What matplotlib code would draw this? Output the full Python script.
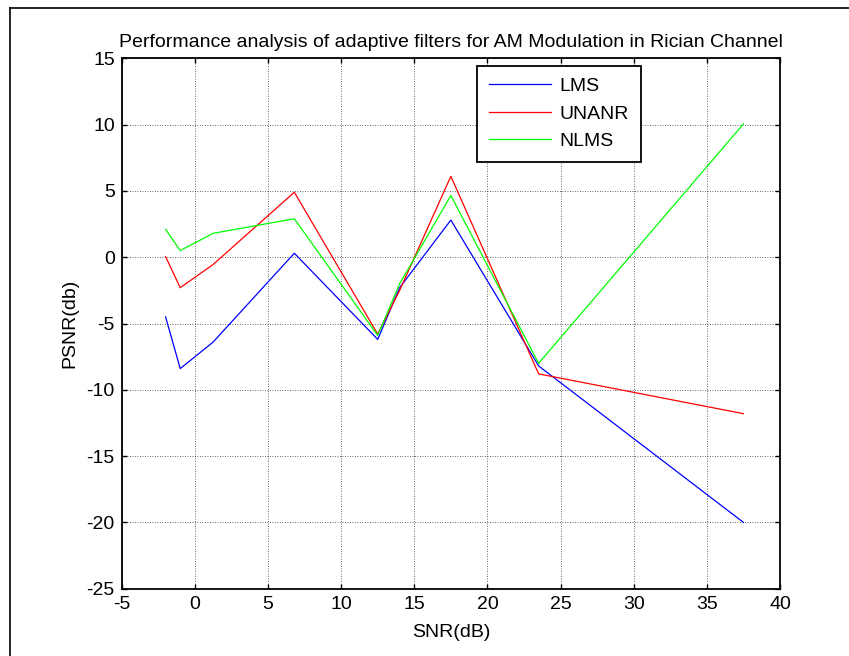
import matplotlib
matplotlib.use('Agg')
import matplotlib.pyplot as plt
from matplotlib.lines import Line2D

plt.rcParams['font.family'] = ['Liberation Sans', 'DejaVu Sans']
plt.rcParams['axes.unicode_minus'] = False

# SNR points (dB) and PSNR of each filter
snr = [-2, -1, 1.25, 6.8, 12.5, 14, 17.5, 23.5, 37.5]
lms = [-4.5, -8.4, -6.4, 0.3, -6.2, -2.3, 2.8, -8.2, -20]
unanr = [0.05, -2.3, -0.55, 4.9, -5.8, -2.5, 6.1, -8.8, -11.8]
nlms = [2.1, 0.5, 1.8, 2.9, -5.9, -2.0, 4.65, -8.0, 10.05]

xticks = list(range(-5, 41, 5))
yticks = list(range(-25, 16, 5))

W, H = 849, 656
fig = plt.figure(figsize=(W / 100, H / 100), dpi=100)
ax = fig.add_axes([121.7 / W, 1 - 588.7 / H, (780 - 121.7) / W, (588.7 - 58.3) / H])

ax.plot(snr, lms, color='#0000ff', lw=0.9, label='LMS')
ax.plot(snr, unanr, color='#ff0000', lw=0.9, label='UNANR')
ax.plot(snr, nlms, color='#00ff00', lw=0.9, label='NLMS')

ax.set_xlim(-5, 40)
ax.set_ylim(-25, 15)
ax.set_xticks(xticks)
ax.set_yticks(yticks)
ax.grid(True, color='black', linestyle=(0, (1, 2)), linewidth=0.6, alpha=0.8)
ax.tick_params(direction='in', top=True, right=True, length=3.5, width=1,
               labelsize=14, pad=5)
for s in ax.spines.values():
    s.set_linewidth(1.3)

ax.set_title('Performance analysis of adaptive filters for AM Modulation in Rician Channel',
             fontsize=14, pad=8)
ax.set_xlabel('SNR(dB)', fontsize=14, labelpad=8)
ax.set_ylabel('PSNR(db)', fontsize=14, labelpad=6)

leg = ax.legend(loc='upper left', bbox_to_anchor=(477 / W, 1 - 66 / H),
                bbox_transform=fig.transFigure, fontsize=14, fancybox=False,
                edgecolor='black', framealpha=1, handlelength=3.2,
                handletextpad=0.45, labelspacing=0.5, borderpad=0.6,
                borderaxespad=0)
leg.get_frame().set_linewidth(1.3)

# outer frame (left and top edges visible)
fig.add_artist(Line2D([10 / W, 10 / W], [0, 1 - 8 / H], color='black', lw=1.2,
                      transform=fig.transFigure))
fig.add_artist(Line2D([10 / W, 1], [1 - 8 / H, 1 - 8 / H], color='black', lw=1.2,
                      transform=fig.transFigure))

fig.savefig('out.png', dpi=100)
